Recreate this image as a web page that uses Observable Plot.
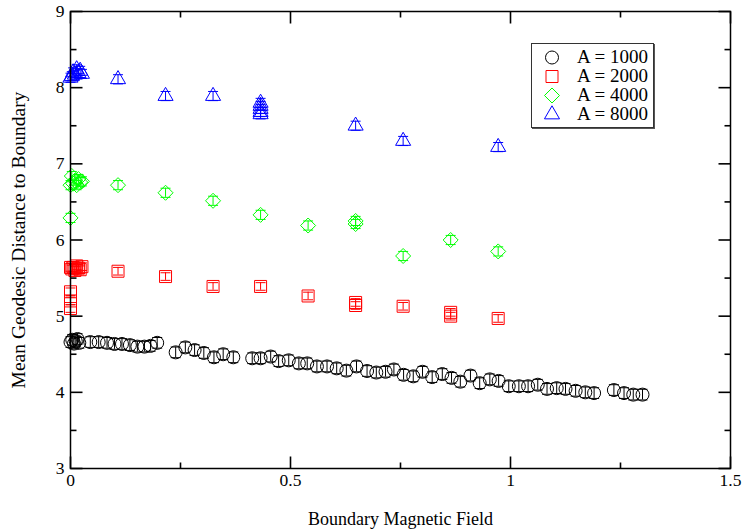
<!DOCTYPE html>
<html><head><meta charset="utf-8">
<script src="https://cdn.jsdelivr.net/npm/d3@7"></script>
<script src="https://cdn.jsdelivr.net/npm/@observablehq/plot@0.6"></script>
<style>
body{margin:0;background:#fff;}
#wrap{position:relative;width:742px;height:531px;font-family:"Liberation Serif","Times New Roman",serif;}
#legend{position:absolute;left:531px;top:43px;width:121px;height:83px;border:1px solid #333;box-shadow:1px 1px 0 #555;background:#fff;}
.row{position:absolute;left:0;height:19px;width:121px;}
.row svg{position:absolute;left:10px;top:0;}
.row span{position:absolute;left:45px;top:-1px;font-size:19px;line-height:19px;white-space:nowrap;color:#000;}
</style></head><body><div id="wrap"></div>
<script>
// ---- data ----
const seriesNames = ["A = 1000", "A = 2000", "A = 4000", "A = 8000"];
const seriesColors = ["#000000", "#ff0000", "#00ff00", "#0000ff"];
const seriesSymbols = ["circle", "square", "diamond2", "triangle"];
const errHalf = [0.07, 0.05, 0.06, 0.06];

const blackX = [0.0, 0.004, 0.008, 0.012, 0.016, 0.02, 0.045, 0.064, 0.083, 0.10, 0.117, 0.135, 0.152, 0.168, 0.182, 0.197, 0.239, 0.261, 0.282, 0.303, 0.326, 0.347, 0.37, 0.413, 0.432, 0.455, 0.473, 0.496, 0.519, 0.538, 0.56, 0.583, 0.605, 0.627, 0.65, 0.674, 0.695, 0.716, 0.735, 0.757, 0.779, 0.80, 0.822, 0.845, 0.866, 0.886, 0.909, 0.930, 0.953, 0.973, 0.996, 1.019, 1.04, 1.062, 1.083, 1.105, 1.125, 1.148, 1.17, 1.19, 1.235, 1.258, 1.279, 1.30];
const blackY = [4.66, 4.69, 4.64, 4.67, 4.70, 4.65, 4.66, 4.66, 4.65, 4.635, 4.635, 4.62, 4.60, 4.60, 4.61, 4.65, 4.525, 4.59, 4.555, 4.517, 4.46, 4.50, 4.46, 4.447, 4.447, 4.47, 4.41, 4.42, 4.38, 4.38, 4.34, 4.34, 4.315, 4.285, 4.34, 4.28, 4.26, 4.27, 4.30, 4.23, 4.21, 4.27, 4.20, 4.24, 4.19, 4.14, 4.22, 4.12, 4.17, 4.15, 4.08, 4.08, 4.08, 4.10, 4.045, 4.055, 4.045, 4.02, 4.00, 3.99, 4.03, 3.99, 3.97, 3.97];

const redX = [0, 0, 0, 0, 0.003, 0.006, 0.01, 0.014, 0.018, 0.022, 0.026, 0.108, 0.216, 0.324, 0.432, 0.54, 0.648, 0.648, 0.756, 0.864, 0.864, 0.972];
const redY = [5.32, 5.2, 5.1, 5.64, 5.62, 5.64, 5.60, 5.66, 5.63, 5.61, 5.65, 5.59, 5.52, 5.39, 5.39, 5.265, 5.14, 5.18, 5.13, 5.0, 5.05, 4.97];

const greenX = [0, 0, 0.003, 0.006, 0.01, 0.014, 0.018, 0.022, 0.026, 0.108, 0.216, 0.324, 0.432, 0.54, 0.648, 0.648, 0.756, 0.864, 0.972];
const greenY = [6.29, 6.72, 6.84, 6.74, 6.78, 6.72, 6.80, 6.76, 6.77, 6.72, 6.62, 6.515, 6.33, 6.19, 6.21, 6.25, 5.79, 6.00, 5.85];

const blueX = [0, 0.003, 0.006, 0.01, 0.014, 0.018, 0.022, 0.026, 0.108, 0.216, 0.324, 0.432, 0.432, 0.432, 0.432, 0.432, 0.648, 0.756, 0.972];
const blueY = [8.13, 8.15, 8.20, 8.17, 8.24, 8.19, 8.22, 8.18, 8.11, 7.89, 7.89, 7.65, 7.68, 7.72, 7.76, 7.80, 7.50, 7.30, 7.22];

const xDomain = [0, 1.5];
const yDomain = [3, 9];
const xMajor = [0, 0.5, 1, 1.5];
const xMinor = [0.25, 0.75, 1.25];
const yMajor = [3, 4, 5, 6, 7, 8, 9];
const yMinor = [3.5, 4.5, 5.5, 6.5, 7.5, 8.5];

// ---- build ----
const xs = [blackX, redX, greenX, blueX];
const ys = [blackY, redY, greenY, blueY];
const markerR = [6.5, 6.77, 6.77, 5.6];
const capSymbol = {draw(ctx) { ctx.moveTo(-5, 0); ctx.lineTo(5, 0); }};
// inward tick symbols: direction (dx, dy) times length in px
const tickSym = (dx, dy, len) => ({draw(ctx) { ctx.moveTo(0, 0); ctx.lineTo(dx * len, dy * len); }});

const marks = [];
xs.forEach((xa, k) => {
  const data = xa.map((x, i) => ({x, y: ys[k][i], e: errHalf[k]}));
  const c = seriesColors[k];
  marks.push(Plot.ruleX(data, {x: "x", y1: d => d.y - d.e, y2: d => d.y + d.e, stroke: c, strokeWidth: 1}));
  marks.push(Plot.dot(data, {x: "x", y: d => d.y - d.e, symbol: capSymbol, stroke: c, fill: "none", strokeWidth: 1}));
  marks.push(Plot.dot(data, {x: "x", y: d => d.y + d.e, symbol: capSymbol, stroke: c, fill: "none", strokeWidth: 1}));
  marks.push(Plot.dot(data, {x: "x", y: "y", symbol: seriesSymbols[k], r: markerR[k], stroke: c, fill: "none", strokeWidth: 1}));
});

const ts = {stroke: "#000", strokeWidth: 1.6, fill: "none"};
const xt = (vals, len, top) => Plot.dot(vals.map(v => ({v})), {x: "v",
  y: () => top ? yDomain[1] : yDomain[0], symbol: tickSym(0, top ? 1 : -1, len), ...ts});
const yt = (vals, len, right) => Plot.dot(vals.map(v => ({v})), {y: "v",
  x: () => right ? xDomain[1] : xDomain[0], symbol: tickSym(right ? -1 : 1, 0, len), ...ts});
marks.push(
  Plot.frame({stroke: "#000", strokeWidth: 1.5}),
  xt(xMajor, 12, false), xt(xMinor, 6, false),
  xt(xMajor, 12, true), xt(xMinor, 6, true),
  yt(yMajor, 12, false), yt(yMinor, 6, false),
  yt(yMajor, 12, true), yt(yMinor, 6, true),
  Plot.axisX({anchor: "bottom", ticks: xMajor, tickSize: 0, tickPadding: 5, tickFormat: d => String(d), label: null}),
  Plot.axisY({anchor: "left", ticks: yMajor, tickSize: 0, tickPadding: 6, tickFormat: d => String(d), label: null}),
  Plot.text(["Boundary Magnetic Field"], {frameAnchor: "bottom", dy: 51, text: d => d, fontSize: 18, lineAnchor: "middle"}),
  Plot.text(["Mean Geodesic Distance to Boundary"], {frameAnchor: "left", dx: -52, rotate: -90, text: d => d, fontSize: 19.5, lineAnchor: "middle", textAnchor: "middle"})
);

const chart = Plot.plot({
  width: 742, height: 531,
  marginLeft: 70, marginRight: 12, marginTop: 11, marginBottom: 63,
  style: {fontFamily: '"Liberation Serif", "Times New Roman", serif', fontSize: "17.5px", color: "#000", background: "#fff"},
  x: {domain: xDomain},
  y: {domain: yDomain},
  marks
});
const wrap = document.getElementById("wrap");
wrap.appendChild(chart);

// ---- legend overlay ----
const legend = document.createElement("div");
legend.id = "legend";
const symMap = {circle: d3.symbolCircle, square: d3.symbolSquare, diamond2: d3.symbolDiamond2, triangle: d3.symbolTriangle};
seriesNames.forEach((name, k) => {
  const row = document.createElement("div");
  row.className = "row";
  row.style.top = (4 + k * 19) + "px";
  const svg = d3.create("svg").attr("width", 20).attr("height", 19);
  svg.append("path")
    .attr("transform", "translate(10,9.5)")
    .attr("d", d3.symbol(symMap[seriesSymbols[k]], Math.PI * markerR[k] * markerR[k])())
    .attr("fill", "none").attr("stroke", seriesColors[k]).attr("stroke-width", 1);
  row.appendChild(svg.node());
  const span = document.createElement("span");
  span.textContent = name;
  row.appendChild(span);
  legend.appendChild(row);
});
wrap.appendChild(legend);
</script>
</body></html>
